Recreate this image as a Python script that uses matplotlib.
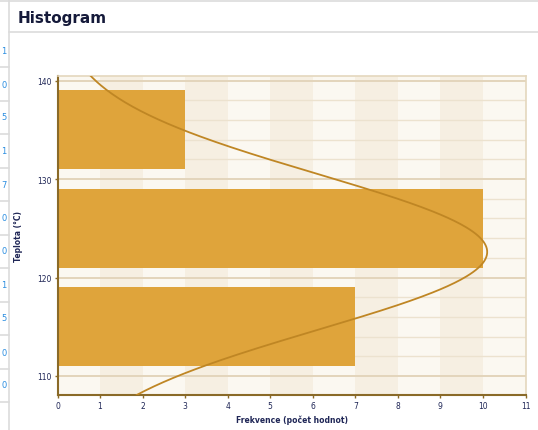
import numpy as np
import matplotlib.pyplot as plt
from matplotlib.lines import Line2D

# histogram of measured values (bins of 10)
bin_centers = [115, 125, 135]
counts = [7, 10, 3]
bin_width = 10

# normal curve fitted to the raw values
n_values = 20
curve_mean = 122.6
curve_sd = 7.9

y_ticks = [110, 120, 130, 140]
x_ticks = list(range(0, 12))

bar_color = '#dfa43b'
curve_color = '#bf8624'
text_color = '#1f2656'

fig = plt.figure(figsize=(5.38, 4.31), dpi=100)
W, H = 538.0, 431.0

# panel frame around the chart
def fline(x0, y0, x1, y1, c='#dcdcdc', lw=1.2):
    fig.add_artist(Line2D([x0 / W, x1 / W], [1 - y0 / H, 1 - y1 / H],
                          color=c, lw=lw, transform=fig.transFigure))

fline(0, 2, W, 2)
fline(9, 0, 9, H)
fline(9, 33, W, 33)
for yy in [68, 101.5, 135, 168.5, 202, 235.5, 269, 302.5, 336, 369.5, 403]:
    fline(0, yy, 9, yy)
# narrow neighbouring column with its values
for yy, s in zip([51, 85, 118, 152, 185, 219, 252, 286, 319, 353, 386],
                 ['1', '0', '5', '1', '7', '0', '0', '1', '5', '0', '0']):
    fig.text(1 / W, 1 - yy / H, s, color='#2a8de0', fontsize=6,
             ha='left', va='center')

fig.text(18 / W, 1 - 18 / H, 'Histogram', fontsize=11, fontweight='bold',
         color='#151a3a', ha='left', va='center')

ax = fig.add_axes([57.5 / W, 1 - 396 / H, 468 / W, 319.3 / H])
ax.set_xlim(0, 11)
ax.set_ylim(108.07, 140.5)

# alternating column bands
for i in range(11):
    ax.axvspan(i, i + 1, color='#f6efe2' if i % 2 else '#fbf8f1', lw=0, zorder=0)

# horizontal grid, heavier every 10
for g in np.arange(110, 141, 2):
    major = g % 10 == 0
    ax.axhline(g, color='#e3d5bb' if major else '#ece2cf',
               lw=1.4 if major else 1.0, zorder=0.5)

ax.barh(bin_centers, counts, height=8.05, color=bar_color, lw=0, zorder=2)

yy = np.linspace(108.07, 140.5, 300)
curve = n_values * bin_width / (curve_sd * np.sqrt(2 * np.pi)) * \
    np.exp(-0.5 * ((yy - curve_mean) / curve_sd) ** 2)
ax.plot(curve, yy, color=curve_color, lw=1.3, zorder=3)

for side in ['top', 'right']:
    ax.spines[side].set_color('#e4d7bd')
    ax.spines[side].set_linewidth(1.2)
for side in ['left', 'bottom']:
    ax.spines[side].set_color('#8a6a28')
    ax.spines[side].set_linewidth(1.5)

ax.set_yticks(y_ticks)
ax.set_xticks(x_ticks)
ax.tick_params(axis='both', length=2.5, width=1, color='#8a6a28',
               labelsize=5.5, labelcolor=text_color, pad=2)

ax.set_xlabel('Frekvence (počet hodnot)', fontsize=5.5, fontweight='bold',
              color=text_color, labelpad=3)
ax.set_ylabel('Teplota (°C)', fontsize=5.5, fontweight='bold',
              color=text_color, labelpad=10)

fig.savefig('out.png', dpi=100)
